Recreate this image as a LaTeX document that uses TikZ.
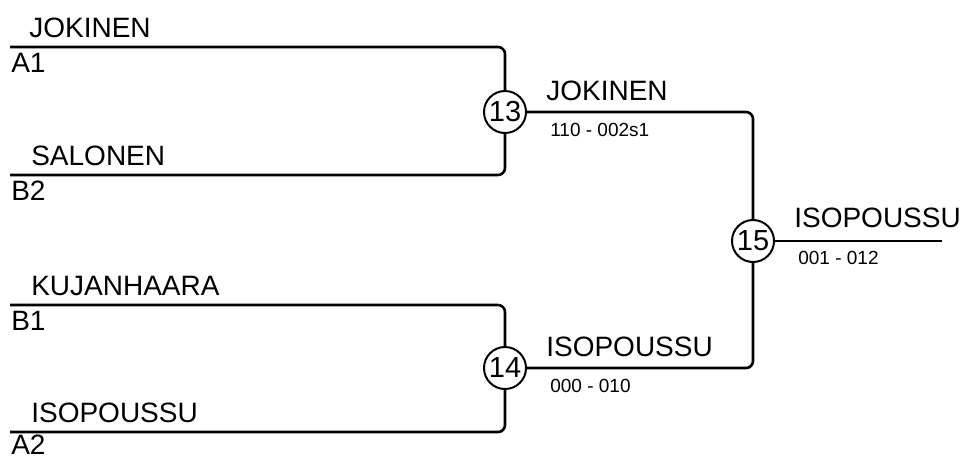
\documentclass[tikz,border=0pt]{standalone}
\usepackage{fontspec}
\setmainfont{Liberation Sans}
\begin{document}
\begin{tikzpicture}[x=1pt, y=1pt, line width=2.6pt,
    team/.style={anchor=base west, inner sep=0pt, font=\fontsize{28}{30}\selectfont},
    score/.style={anchor=base west, inner sep=0pt, font=\fontsize{19}{21}\selectfont},
    game/.style={circle, draw, fill=white, line width=2pt, minimum size=42pt,
                 inner sep=0pt, font=\fontsize{29}{31}\selectfont},
    bracket/.style={rounded corners=7pt}]
    \useasboundingbox (0,0) rectangle (960,-459);
    \node[game] (g13) at (505,-112)                 {13};
    \node[game] (g14) at ([shift={(0,-256)}]   g13) {14};
    \node[game] (g15) at ([shift={(248,-129)}] g13) {15};
    \coordinate (a1)  at (10,-47);
    \coordinate (b2)  at ([shift={(0,-128)}] a1);
    \coordinate (b1)  at ([shift={(0,-258)}] a1);
    \coordinate (a2)  at ([shift={(0,-385)}] a1);
    \coordinate (win) at ([shift={(189,0)}] g15);
    \node[team] (t1) at ([shift={(18,10)}]  a1) {JOKINEN};
    \node[team] (s1) at ([shift={(0,-25)}]  a1) {A1};
    \node[team] (t2) at ([shift={(20,10)}]  b2) {SALONEN};
    \node[team] (s2) at ([shift={(0,-25)}]  b2) {B2};
    \node[team] (t3) at ([shift={(20,10)}]  b1) {KUJANHAARA};
    \node[team] (s3) at ([shift={(0,-25)}]  b1) {B1};
    \node[team] (t4) at ([shift={(20,10)}]  a2) {ISOPOUSSU};
    \node[team] (s4) at ([shift={(0,-22)}]  a2) {A2};
    \node[team]  (w13) at ([shift={(40,12)}]  g13) {JOKINEN};
    \node[score] (r13) at ([shift={(44,-24)}] g13) {110 - 002s1};
    \node[team]  (w14) at ([shift={(40,12)}]  g14) {ISOPOUSSU};
    \node[score] (r14) at ([shift={(44,-24)}] g14) {000 - 010};
    \node[team]  (w15) at ([shift={(40,14)}]  g15) {ISOPOUSSU};
    \node[score] (r15) at ([shift={(44,-23)}] g15) {001 - 012};
    \draw[bracket] (a1) -| (g13);
    \draw[bracket] (b2) -| (g13);
    \draw[bracket] (b1) -| (g14);
    \draw[bracket] (a2) -| (g14);
    \draw[bracket] (g13) -| (g15);
    \draw[bracket] (g14) -| (g15);
    \draw (g15) -- (win);
  \end{tikzpicture}
\end{document}
